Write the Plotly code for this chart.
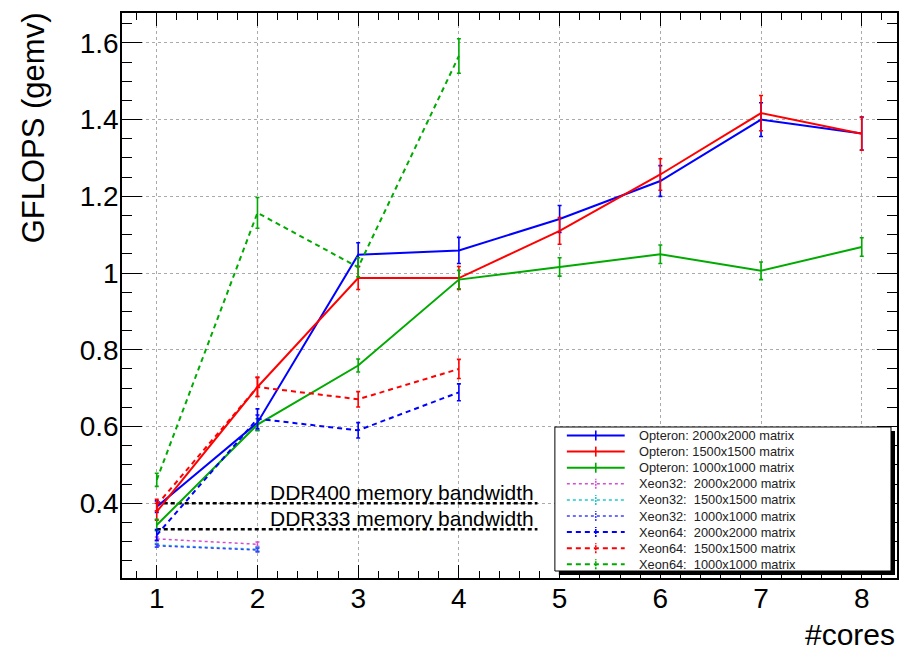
import plotly.graph_objects as go

# ---------------- data ----------------
cores_opt = [1, 2, 3, 4, 5, 6, 7, 8]
cores_x32 = [1, 2]
cores_x64 = [1, 2, 3, 4]

opt_2000 = [0.391, 0.610, 1.048, 1.059, 1.141, 1.240, 1.400, 1.364]
opt_2000_err = [0.015, 0.020, 0.031, 0.034, 0.035, 0.040, 0.044, 0.043]
opt_1500 = [0.378, 0.703, 0.987, 0.987, 1.110, 1.257, 1.417, 1.363]
opt_1500_err = [0.022, 0.025, 0.030, 0.030, 0.035, 0.041, 0.046, 0.043]
opt_1000 = [0.343, 0.605, 0.759, 0.983, 1.016, 1.049, 1.006, 1.068]
opt_1000_err = [0.015, 0.015, 0.017, 0.024, 0.024, 0.024, 0.023, 0.024]

x32_2000 = [0.307, 0.293]
x32_2000_err = [0.005, 0.006]
x32_1500 = [0.291, 0.280]
x32_1500_err = [0.004, 0.005]
x32_1000 = [0.289, 0.278]
x32_1000_err = [0.004, 0.005]

x64_2000 = [0.317, 0.620, 0.590, 0.689]
x64_2000_err = [0.014, 0.026, 0.020, 0.022]
x64_1500 = [0.395, 0.703, 0.671, 0.750]
x64_1500_err = [0.015, 0.025, 0.020, 0.025]
x64_1000 = [0.461, 1.157, 1.015, 1.566]
x64_1000_err = [0.017, 0.040, 0.025, 0.045]

ddr_x = [1, 4.78]
ddr_levels = [0.400, 0.332]
ddr_labels = ["DDR400 memory bandwidth", "DDR333 memory bandwidth"]

series_names = [
    "Opteron: 2000x2000 matrix",
    "Opteron: 1500x1500 matrix",
    "Opteron: 1000x1000 matrix",
    "Xeon32:  2000x2000 matrix",
    "Xeon32:  1500x1500 matrix",
    "Xeon32:  1000x1000 matrix",
    "Xeon64:  2000x2000 matrix",
    "Xeon64:  1500x1500 matrix",
    "Xeon64:  1000x1000 matrix",
]
series_x = [cores_opt] * 3 + [cores_x32] * 3 + [cores_x64] * 3
series_y = [opt_2000, opt_1500, opt_1000, x32_2000, x32_1500, x32_1000,
            x64_2000, x64_1500, x64_1000]
series_err = [opt_2000_err, opt_1500_err, opt_1000_err, x32_2000_err,
              x32_1500_err, x32_1000_err, x64_2000_err, x64_1500_err,
              x64_1000_err]

# ---------------- styles ----------------
colors = ["#0000ff", "#ff0000", "#00aa00", "#d24fd2", "#22c8c8", "#4040ff",
          "#0000ff", "#ff0000", "#00aa00"]
dashes = ["solid"] * 3 + ["dot"] * 3 + ["5px,4px"] * 3
widths = [2] * 3 + [1.5] * 3 + [2] * 3

FONT = "Liberation Sans, Arial, sans-serif"
W, H = 904, 657
ML, MR, MT, MB = 122, 5, 13, 79
PW, PH = W - ML - MR, H - MT - MB


def px2x(px):
    return (px - ML) / PW


def py2y(py):
    return (H - MB - py) / PH


fig = go.Figure()

# memory bandwidth reference lines
for lvl, lab in zip(ddr_levels, ddr_labels):
    fig.add_trace(go.Scatter(
        x=ddr_x, y=[lvl, lvl], mode="lines",
        line=dict(color="black", width=2.5, dash="4px,3px"),
        showlegend=False, hoverinfo="skip"))
    fig.add_annotation(x=2.1, y=lvl, xref="x", yref="y", text=lab,
                       showarrow=False, xanchor="left", yanchor="bottom",
                       yshift=-3, font=dict(family=FONT, size=21, color="black"))

for name, xs, ys, es, col, dash, w in zip(series_names, series_x, series_y,
                                          series_err, colors, dashes, widths):
    fig.add_trace(go.Scatter(
        x=xs, y=ys, name=name, mode="lines", showlegend=False,
        line=dict(color=col, width=w, dash=dash),
        error_y=dict(type="data", array=es, visible=True, color=col,
                     thickness=1.6, width=2),
    ))

# ---------------- ROOT-style legend box ----------------
LEG_L, LEG_R, LEG_T, LEG_B = 556, 893, 427, 571
SHADOW = 4
fig.add_shape(type="rect", xref="paper", yref="paper",
              x0=px2x(LEG_L + SHADOW), x1=px2x(LEG_R + SHADOW),
              y0=py2y(LEG_B + SHADOW), y1=py2y(LEG_T + SHADOW),
              fillcolor="black", line=dict(width=0), layer="above")
fig.add_shape(type="rect", xref="paper", yref="paper",
              x0=px2x(LEG_L), x1=px2x(LEG_R), y0=py2y(LEG_B), y1=py2y(LEG_T),
              fillcolor="white", line=dict(color="black", width=1), layer="above")
ROW0, ROWH = 435.5, 16.1
for i, (name, col, dash, w) in enumerate(zip(series_names, colors, dashes, widths)):
    yc = py2y(ROW0 + i * ROWH)
    fig.add_shape(type="line", xref="paper", yref="paper",
                  x0=px2x(568), x1=px2x(626), y0=yc, y1=yc,
                  line=dict(color=col, width=w, dash=dash), layer="above")
    fig.add_shape(type="line", xref="paper", yref="paper",
                  x0=px2x(597), x1=px2x(597),
                  y0=py2y(ROW0 + i * ROWH + 5), y1=py2y(ROW0 + i * ROWH - 5),
                  line=dict(color=col, width=1.6,
                            dash="solid" if dash == "solid" else "2px,1px"),
                  layer="above")
    fig.add_annotation(xref="paper", yref="paper", x=px2x(638), y=yc,
                       text=name.replace("  ", "&nbsp; "), showarrow=False,
                       xanchor="left", yanchor="middle",
                       font=dict(family=FONT, size=12.8, color="#222222"))

axis_common = dict(
    showline=True, linecolor="black", linewidth=1.5, mirror="allticks",
    ticks="inside", tickcolor="black", tickwidth=1,
    showgrid=True, gridcolor="#aaaaaa", griddash="dot", gridwidth=1,
    zeroline=False,
    tickfont=dict(family=FONT, size=28, color="black"),
)

fig.update_xaxes(range=[0.655, 8.35], tick0=1, dtick=1, ticklen=13,
                 ticklabelstandoff=-5,
                 minor=dict(ticks="inside", ticklen=7, dtick=0.2, tick0=1,
                            tickcolor="black", showgrid=False),
                 **axis_common)
fig.update_yaxes(range=[0.205, 1.678], tick0=0.2, dtick=0.2, ticklen=20,
                 ticklabelstandoff=-4,
                 minor=dict(ticks="inside", ticklen=10, dtick=0.05, tick0=0.2,
                            tickcolor="black", showgrid=False),
                 **axis_common)

fig.add_annotation(xref="paper", yref="paper", x=-0.114, y=1.005,
                   text="GFLOPS (gemv)", textangle=-90, showarrow=False,
                   xanchor="center", yanchor="top",
                   font=dict(family=FONT, size=31, color="black"))
fig.add_annotation(xref="paper", yref="paper", x=1.0, y=-0.10,
                   text="#cores", showarrow=False,
                   xanchor="right", yanchor="middle",
                   font=dict(family=FONT, size=30, color="black"))

fig.update_layout(
    width=W, height=H,
    margin=dict(l=ML, r=MR, t=MT, b=MB),
    paper_bgcolor="white", plot_bgcolor="white",
    font=dict(family=FONT, color="black"),
    showlegend=False,
)

fig.write_html("out.html")
